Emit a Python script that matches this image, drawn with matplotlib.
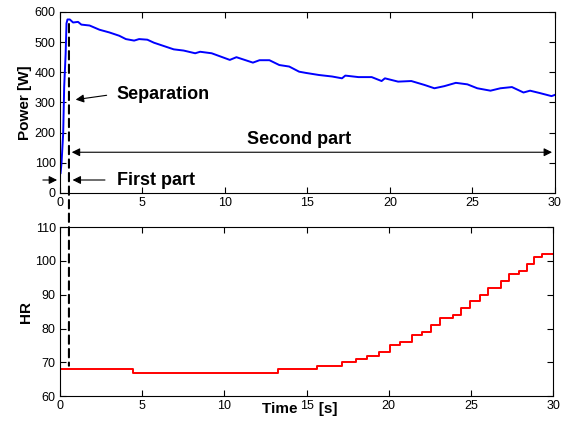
import matplotlib
matplotlib.use("Agg")
from matplotlib import pyplot as plt
from matplotlib.patches import ConnectionPatch

plt.rcParams['font.family'] = ['Liberation Sans', 'DejaVu Sans']

# power curve (s, W)
t_power = [0.04, 0.1, 0.2, 0.26, 0.35, 0.4, 0.46, 0.6, 0.8, 1.1, 1.3, 1.8, 2.4, 3.0, 3.6, 4.0,
           4.5, 4.8, 5.3, 5.7, 6.3, 6.9, 7.5, 8.2, 8.5, 9.2, 10.3, 10.7, 11.7, 12.1, 12.7,
           13.3, 13.9, 14.5, 14.9, 15.7, 16.5, 17.1, 17.3, 18.1, 18.9, 19.5, 19.7, 20.5,
           21.3, 22.1, 22.7, 23.3, 24.0, 24.7, 25.3, 26.1, 26.7, 27.4, 28.1, 28.5, 29.1,
           29.8, 30.0]
power = [66, 100, 198, 352, 463, 562, 575, 575, 565, 567, 558, 555, 541, 532, 521, 510,
         505, 510, 508, 498, 487, 476, 472, 463, 468, 463, 441, 450, 432, 440, 440,
         424, 419, 402, 398, 391, 386, 380, 389, 384, 384, 371, 380, 369,
         371, 358, 347, 354, 365, 360, 347, 339, 347, 351, 333, 339, 331,
         321, 325]

# heart rate steps (s, bpm)
t_hr = [0, 4.45, 13.27, 15.65, 17.17, 17.98, 18.69, 19.39, 20.1, 20.7, 21.4, 22.0, 22.6,
        23.1, 23.9, 24.4, 24.95, 25.55, 26.06, 26.8, 27.3, 27.9, 28.4, 28.85, 29.3, 30.0]
hr = [68, 67, 68, 69, 70, 71, 72, 73, 75, 76, 78, 79, 81,
      83, 84, 86, 88, 90, 92, 94, 96, 97, 99, 101, 102, 102]

sep_time = 0.55

fig = plt.figure(figsize=(5.65, 4.26), dpi=100)
ax1 = fig.add_axes([0.106, 0.547, 0.876, 0.425])
ax2 = fig.add_axes([0.106, 0.070, 0.873, 0.397])

ax1.plot(t_power, power, color='blue', lw=1.4)
ax1.set_xlim(0, 30)
ax1.set_ylim(0, 600)
ax1.set_xticks(range(0, 31, 5))
ax1.set_yticks(range(0, 601, 100))
ax1.set_ylabel('Power [W]', fontsize=11, fontweight='bold', labelpad=2)

ax2.step(t_hr, hr, where='post', color='red', lw=1.4)
ax2.set_xlim(0, 30)
ax2.set_ylim(60, 110)
ax2.set_xticks(range(0, 31, 5))
ax2.set_yticks(range(60, 111, 10))
ax2.set_ylabel('HR', fontsize=11, fontweight='bold', labelpad=1)
ax2.set_xlabel('Time     [s]', fontsize=11, fontweight='bold')
ax2.xaxis.set_label_coords(0.487, -0.035)

for ax in (ax1, ax2):
    ax.tick_params(direction='in', top=True, right=True, length=4, labelsize=9, pad=3)
    for s in ax.spines.values():
        s.set_linewidth(0.8)

# dashed separation line across both panels
con = ConnectionPatch(xyA=(sep_time, 560), coordsA=ax1.transData,
                      xyB=(sep_time, 69), coordsB=ax2.transData,
                      color='black', lw=1.5, linestyle=(0, (4, 2.5)))
fig.add_artist(con)

arrow = dict(arrowstyle='-|>', color='black', lw=0.8, mutation_scale=12)
txt = dict(fontsize=13, fontweight='bold', va='center')

ax1.annotate('', xy=(0.79, 308), xytext=(3.0, 325), arrowprops=arrow)
ax1.text(3.45, 325, 'Separation', **txt)

ax1.annotate('', xy=(30, 135), xytext=(sep_time, 135),
             arrowprops=dict(arrowstyle='<|-|>', color='black', lw=0.8, mutation_scale=12))
ax1.text(14.5, 176, 'Second part', ha='center', **txt)

ax1.annotate('', xy=(0, 43), xytext=(-1.2, 43), arrowprops=arrow, annotation_clip=False)
ax1.annotate('', xy=(0.6, 43), xytext=(2.9, 43), arrowprops=arrow)
ax1.text(3.45, 43, 'First part', **txt)

fig.savefig('out.png', dpi=100)
